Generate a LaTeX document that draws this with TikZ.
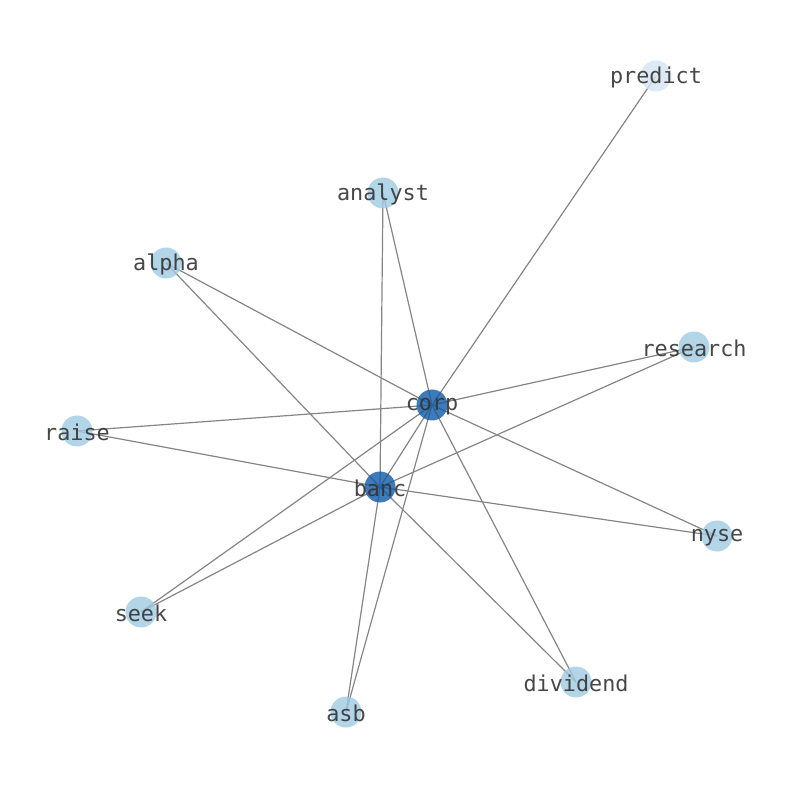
\documentclass[tikz,border=0pt]{standalone}
\usepackage{fontspec}
\setmonofont{DejaVu Sans Mono}
\pgfdeclarelayer{background}
\pgfsetlayers{background,main}
\definecolor{darkn}{HTML}{0F5AA6}
\definecolor{lightn}{HTML}{A0CAE2}
\definecolor{palen}{HTML}{D5E4F3}
\definecolor{txt}{HTML}{333333}
\definecolor{edgec}{HTML}{858585}
\tikzset{
  vtx/.style={circle, minimum size=31pt, inner sep=0pt, fill opacity=0.8, draw=none},
  lbl/.style={text=txt, font=\ttfamily\fontsize{21.8}{26}\selectfont, text opacity=0.9, yshift=-1.5pt},
  edg/.style={draw=edgec, line width=1.2pt}
}
\begin{document}
\begin{tikzpicture}[x=1pt,y=1pt]
\useasboundingbox (0,0) rectangle (794,790);
\node[vtx, fill=palen, label={[lbl]center:predict}] (predict) at (656,714) {};
\node[vtx, fill=lightn, label={[lbl]center:analyst}] (analyst) at (383,597) {};
\node[vtx, fill=lightn, label={[lbl]center:alpha}] (alpha) at (166,527) {};
\node[vtx, fill=lightn, label={[lbl]center:research}] (research) at (694,443) {};
\node[vtx, fill=darkn, label={[lbl]center:corp}] (corp) at (432,385) {};
\node[vtx, fill=lightn, label={[lbl]center:raise}] (raise) at (77,359) {};
\node[vtx, fill=darkn, label={[lbl]center:banc}] (banc) at (380,303) {};
\node[vtx, fill=lightn, label={[lbl]center:nyse}] (nyse) at (717,254) {};
\node[vtx, fill=lightn, label={[lbl]center:seek}] (seek) at (141,178) {};
\node[vtx, fill=lightn, label={[lbl]center:dividend}] (dividend) at (576,108) {};
\node[vtx, fill=lightn, label={[lbl]center:asb}] (asb) at (346,78) {};
\begin{pgfonlayer}{background}
\foreach \a/\b in {corp/predict, corp/analyst, banc/analyst, alpha/corp, alpha/banc,
  research/corp, research/banc, corp/raise, raise/banc, corp/nyse, banc/nyse,
  corp/seek, banc/seek, corp/dividend, banc/dividend, corp/asb, banc/asb, corp/banc}
  \draw[edg] (\a.center) -- (\b.center);
\end{pgfonlayer}
\end{tikzpicture}
\end{document}
